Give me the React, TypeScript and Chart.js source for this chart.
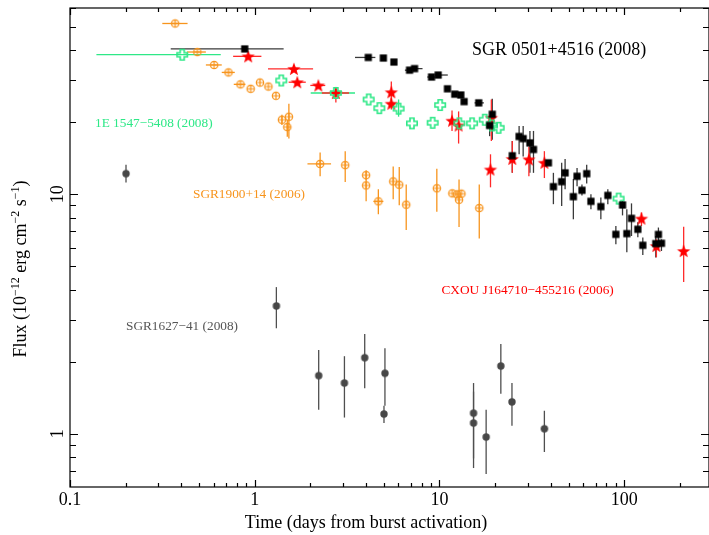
import { useEffect, useRef } from "react";
import { Chart, registerables } from "chart.js";

Chart.register(...registerables);

// Axis ranges and tick labels
const X_MIN = 0.1;
const X_MAX = 288;
const Y_MIN = 0.607;
const Y_MAX = 60;
const xTickLabels = [0.1, 1, 10, 100];
const yTickLabels = [1, 10];

// Rows: [time (days), flux, fluxLow, fluxHigh, timeLow, timeHigh]
type Row = (number | null)[];

const sgr0501: Row[] = [
  [0.883, 40.5, null, null, 0.351, 1.434],
  [4.12, 37.3, null, null, 3.49, 4.5],
  [4.97, 37.1],
  [5.67, 35.7],
  [6.89, 33.0, null, null, 6.5, 7.3],
  [7.33, 33.5, null, null, 7.0, 8.1],
  [9.06, 30.9, null, null, 8.6, 9.5],
  [9.84, 31.5, null, null, 9.45, 11.1],
  [11.05, 27.6],
  [12.11, 26.2],
  [13.05, 26.0],
  [13.6, 24.4],
  [16.32, 24.1, null, null, 15.5, 17.4],
  [18.7, 19.4, 17.5, 21.2],
  [19.32, 21.6, 16.9, 25.1],
  [24.8, 14.5, 12.3, 16.7],
  [27.0, 17.45, 14.7, 19.3],
  [28.4, 17.1, 14.4, 19.3],
  [30.9, 16.4, 12.3, 18.4],
  [32.3, 15.4, 12.3, 18.4],
  [38.9, 13.55],
  [41.4, 10.77, 9.1, 12.3],
  [45.9, 11.3, 8.94, 13.55],
  [47.9, 12.3, 10.5, 14.06],
  [53.1, 9.78, 7.87, 11.6],
  [55.6, 11.9, 10.8, 12.9],
  [59.1, 10.4, 9.9, 11.0],
  [62.7, 12.2, 11.1, 13.3],
  [66.1, 9.35, 8.66, 10.0],
  [74.8, 8.89, 7.87, 9.7],
  [81.6, 9.9, 9.1, 10.5],
  [98.0, 9.03, 8.17, 9.37],
  [90.2, 6.81, 6.19, 7.38],
  [103.4, 6.86, 5.73, 8.66],
  [109.6, 7.94, 6.7, 9.17],
  [118.6, 7.15, 6.62, 7.65],
  [126.2, 6.13, 5.58, 6.6],
  [148.3, 6.23, 5.45, 6.7],
  [153.3, 6.8, 6.29, 7.27],
  [159.2, 6.25, 5.8, 6.49],
];

const cxou1647: Row[] = [
  [0.922, 37.7, null, null, 0.764, 1.087],
  [1.63, 33.4, null, null, 1.18, 2.07],
  [1.7, 29.4, null, null, 1.526, 1.89],
  [2.21, 28.5, null, null, 2.0, 2.41],
  [2.75, 26.5, 24.2, 28.0, 2.31, 3.24],
  [5.49, 26.7, 24.5, 29.6],
  [5.49, 23.9, 22.6, 25.3],
  [11.7, 20.3, 18.4, 22.4],
  [12.7, 19.4, 16.3, 22.2],
  [19.1, 20.9, 16.7, 24.9],
  [18.9, 12.7, 10.7, 14.7],
  [24.8, 14.06, 12.3, 16.7],
  [30.5, 14.0, 11.9, 15.8],
  [37.0, 13.55, 11.7, 15.15],
  [124.1, 7.92, 7.38, 8.41],
  [149.5, 6.09, 5.46, 6.49],
  [210, 5.8, 4.31, 7.33],
];

const e1547: Row[] = [
  [0.405, 38.3, null, null, 0.139, 0.655],
  [1.393, 29.9],
  [2.75, 26.5, null, null, 2.01, 3.49],
  [4.14, 24.9],
  [4.73, 22.9],
  [6.01, 22.8, 21.1, 24.9],
  [7.1, 19.8],
  [9.19, 19.9],
  [10.09, 23.6],
  [12.82, 19.8],
  [15.02, 19.8],
  [17.58, 20.5],
  [19.25, 19.4],
  [20.93, 18.97],
  [93.3, 9.6],
];

const sgr1900: Row[] = [
  [0.371, 51.7, null, null, 0.316, 0.433],
  [0.489, 39.3, null, null, 0.43, 0.544],
  [0.603, 34.7, null, null, 0.544, 0.663],
  [0.721, 32.3, null, null, 0.663, 0.78],
  [0.837, 28.8, null, null, 0.77, 0.89],
  [0.951, 27.6],
  [1.068, 29.3],
  [1.186, 28.2],
  [1.303, 25.8],
  [1.404, 20.5, 19.5, 21.5],
  [1.531, 21.1, 17.1, 23.9],
  [1.501, 19.1, 17.4, 20.5],
  [2.26, 13.4, 11.9, 14.96, 1.93, 2.59],
  [3.09, 13.25, 11.25, 15.15],
  [4.01, 12.03, 11.5, 12.6],
  [4.01, 10.9, 9.35, 11.66],
  [4.67, 9.35, 8.26, 10.5, 4.39, 4.97],
  [5.62, 11.33, 9.53, 13.08],
  [6.06, 10.97, 9.0, 13.0],
  [6.61, 9.06, 7.1, 11.0],
  [9.68, 10.6, 8.47, 12.8],
  [11.75, 10.1],
  [12.46, 10.0],
  [13.15, 10.07],
  [12.77, 9.5, 7.3, 11.55],
  [16.43, 8.77, 6.54, 11.0],
];

const sgr1627: Row[] = [
  [0.201, 12.2, 11.2, 13.3],
  [1.31, 3.42, 2.76, 4.1],
  [2.22, 1.75, 1.26, 2.24],
  [3.06, 1.63, 1.17, 2.11],
  [3.94, 2.08, 1.55, 2.61],
  [5.07, 1.79, 1.31, 2.28],
  [5.01, 1.21, 1.11, 1.31],
  [15.3, 1.22, 0.79, 1.63],
  [15.3, 1.11, 0.72, 1.5],
  [17.9, 0.97, 0.68, 1.26],
  [21.5, 1.92, 1.47, 2.37],
  [24.7, 1.36, 1.08, 1.63],
  [37.0, 1.05, 0.84, 1.25, 35.5, 38.5],
];

const COLORS = {
  black: "#000000",
  red: "#ff0000",
  green: "#2ee887",
  orange: "#f7941d",
  gray: "#474747",
};

const FONT = "'Liberation Serif', 'Times New Roman', serif";

function toPoints(rows: Row[]) {
  return rows.map((r) => ({
    x: r[0] as number,
    y: r[1] as number,
    yLo: r[2] ?? null,
    yHi: r[3] ?? null,
    xLo: r[4] ?? null,
    xHi: r[5] ?? null,
  }));
}

function mkCanvas(size: number, draw: (ctx: CanvasRenderingContext2D, c: number) => void) {
  const cv = document.createElement("canvas");
  cv.width = size;
  cv.height = size;
  const ctx = cv.getContext("2d")!;
  draw(ctx, size / 2);
  return cv;
}

function starIcon(color: string) {
  return mkCanvas(16, (ctx, c) => {
    const R = 7;
    const r = 2.9;
    ctx.beginPath();
    for (let i = 0; i < 10; i++) {
      const rad = i % 2 === 0 ? R : r;
      const a = -Math.PI / 2 + (i * Math.PI) / 5;
      const px = c + rad * Math.cos(a);
      const py = c + 0.6 + rad * Math.sin(a);
      if (i === 0) ctx.moveTo(px, py);
      else ctx.lineTo(px, py);
    }
    ctx.closePath();
    ctx.fillStyle = color;
    ctx.fill();
  });
}

function plusIcon(color: string) {
  return mkCanvas(14, (ctx, c) => {
    const a = 5.2;
    const w = 2.0;
    const pts = [
      [-a, -w], [-w, -w], [-w, -a], [w, -a], [w, -w], [a, -w],
      [a, w], [w, w], [w, a], [-w, a], [-w, w], [-a, w],
    ];
    ctx.beginPath();
    pts.forEach(([px, py], i) => {
      if (i === 0) ctx.moveTo(c + px, c + py);
      else ctx.lineTo(c + px, c + py);
    });
    ctx.closePath();
    ctx.strokeStyle = color;
    ctx.lineWidth = 1.6;
    ctx.stroke();
  });
}

function circleCrossIcon(color: string) {
  return mkCanvas(12, (ctx, c) => {
    const r = 3.7;
    ctx.strokeStyle = color;
    ctx.lineWidth = 1.2;
    ctx.beginPath();
    ctx.arc(c, c, r, 0, Math.PI * 2);
    ctx.moveTo(c - r, c);
    ctx.lineTo(c + r, c);
    ctx.moveTo(c, c - r);
    ctx.lineTo(c, c + r);
    ctx.stroke();
  });
}

function dotIcon(color: string) {
  return mkCanvas(10, (ctx, c) => {
    ctx.beginPath();
    ctx.arc(c, c, 3.7, 0, Math.PI * 2);
    ctx.fillStyle = color;
    ctx.fill();
  });
}

function squareIcon(color: string) {
  return mkCanvas(10, (ctx, c) => {
    ctx.fillStyle = color;
    ctx.fillRect(c - 3.6, c - 3.6, 7.2, 7.2);
  });
}

const errorBarsPlugin = {
  id: "errorBars",
  beforeDatasetsDraw(chart: any) {
    const { ctx, scales } = chart;
    const xs = scales.x;
    const ys = scales.y;
    ctx.save();
    ctx.beginPath();
    ctx.rect(chart.chartArea.left, chart.chartArea.top, chart.chartArea.right - chart.chartArea.left, chart.chartArea.bottom - chart.chartArea.top);
    ctx.clip();
    chart.data.datasets.forEach((ds: any) => {
      ctx.strokeStyle = ds.errColor;
      ctx.lineWidth = 1.3;
      ds.data.forEach((p: any) => {
        const px = xs.getPixelForValue(p.x);
        const py = ys.getPixelForValue(p.y);
        ctx.beginPath();
        if (p.yLo != null && p.yHi != null) {
          ctx.moveTo(px, ys.getPixelForValue(p.yLo));
          ctx.lineTo(px, ys.getPixelForValue(p.yHi));
        }
        if (p.xLo != null && p.xHi != null) {
          ctx.moveTo(xs.getPixelForValue(p.xLo), py);
          ctx.lineTo(xs.getPixelForValue(p.xHi), py);
        }
        ctx.stroke();
      });
    });
    ctx.restore();
  },
};

function logTicks(min: number, max: number) {
  const out: { v: number; major: boolean }[] = [];
  for (let e = -2; e <= 3; e++) {
    for (let m = 1; m <= 9; m++) {
      const v = m * Math.pow(10, e);
      if (v >= min * 0.9999 && v <= max * 1.0001) out.push({ v, major: m === 1 });
    }
  }
  return out;
}

const framePlugin = {
  id: "frame",
  afterDatasetsDraw(chart: any) {
    const { ctx, chartArea: a, scales } = chart;
    const xs = scales.x;
    const ys = scales.y;
    ctx.save();
    ctx.strokeStyle = "#000";
    ctx.lineWidth = 1.2;
    ctx.strokeRect(a.left, a.top, a.right - a.left, a.bottom - a.top);
    ctx.beginPath();
    logTicks(X_MIN, X_MAX).forEach(({ v, major }) => {
      const px = Math.round(xs.getPixelForValue(v)) + 0.5;
      const len = major ? 7 : 4;
      ctx.moveTo(px, a.bottom);
      ctx.lineTo(px, a.bottom - len);
      ctx.moveTo(px, a.top);
      ctx.lineTo(px, a.top + len);
    });
    logTicks(Y_MIN, Y_MAX).forEach(({ v, major }) => {
      const py = Math.round(ys.getPixelForValue(v)) + 0.5;
      const len = major ? 8 : 6;
      ctx.moveTo(a.left, py);
      ctx.lineTo(a.left + len, py);
      ctx.moveTo(a.right, py);
      ctx.lineTo(a.right - len, py);
    });
    ctx.stroke();

    // tick labels
    ctx.fillStyle = "#000";
    ctx.font = `18px ${FONT}`;
    ctx.textAlign = "center";
    ctx.textBaseline = "middle";
    xTickLabels.forEach((v) => {
      ctx.fillText(String(v), xs.getPixelForValue(v), 500);
    });
    yTickLabels.forEach((v) => {
      ctx.save();
      ctx.translate(57, ys.getPixelForValue(v));
      ctx.rotate(-Math.PI / 2);
      ctx.fillText(String(v), 0, 1);
      ctx.restore();
    });

    // x title
    ctx.fillText("Time (days from burst activation)", 366, 523);

    // y title with superscripts
    const parts: [string, boolean][] = [
      ["Flux (10", false],
      ["\u221212", true],
      [" erg cm", false],
      ["\u22122", true],
      [" s", false],
      ["\u22121", true],
      [")", false],
    ];
    const big = `18px ${FONT}`;
    const small = `12px ${FONT}`;
    let total = 0;
    parts.forEach(([t, sup]) => {
      ctx.font = sup ? small : big;
      total += ctx.measureText(t).width;
    });
    ctx.save();
    ctx.translate(20, 269);
    ctx.rotate(-Math.PI / 2);
    ctx.textAlign = "left";
    ctx.textBaseline = "alphabetic";
    let cx = -total / 2;
    parts.forEach(([t, sup]) => {
      ctx.font = sup ? small : big;
      ctx.fillText(t, cx, sup ? -1 : 6);
      cx += ctx.measureText(t).width;
    });
    ctx.restore();

    // annotations
    ctx.textAlign = "left";
    ctx.textBaseline = "middle";
    const notes: [string, number, number, number, string][] = [
      ["SGR 0501+4516 (2008)", 472, 50, 18, COLORS.black],
      ["1E 1547\u22125408 (2008)", 95, 123.5, 13.3, COLORS.green],
      ["SGR1900+14 (2006)", 193, 195, 13.3, COLORS.orange],
      ["CXOU J164710\u2212455216 (2006)", 441.5, 291, 13.3, COLORS.red],
      ["SGR1627\u221241 (2008)", 126, 327, 13.3, "#555555"],
    ];
    notes.forEach(([t, x, y, size, col]) => {
      ctx.font = `${size}px ${FONT}`;
      ctx.fillStyle = col;
      ctx.fillText(t, x, y);
    });
    ctx.restore();
  },
};

export default function App() {
  const ref = useRef<HTMLCanvasElement | null>(null);

  useEffect(() => {
    if (!ref.current) return;
    const datasets: any[] = [
      {
        label: "SGR 0501+4516 (2008)",
        data: toPoints(sgr0501),
        pointStyle: squareIcon(COLORS.black),
        errColor: "#3a3a3a",
        order: 1,
      },
      {
        label: "1E 1547-5408 (2008)",
        data: toPoints(e1547),
        pointStyle: plusIcon(COLORS.green),
        errColor: COLORS.green,
        order: 2,
      },
      {
        label: "CXOU J164710-455216 (2006)",
        data: toPoints(cxou1647),
        pointStyle: starIcon(COLORS.red),
        errColor: "#ff2a2a",
        order: 3,
      },
      {
        label: "SGR1900+14 (2006)",
        data: toPoints(sgr1900),
        pointStyle: circleCrossIcon(COLORS.orange),
        errColor: COLORS.orange,
        order: 4,
      },
      {
        label: "SGR1627-41 (2008)",
        data: toPoints(sgr1627),
        pointStyle: dotIcon(COLORS.gray),
        errColor: "#4f4f4f",
        order: 5,
      },
    ].map((d) => ({ ...d, showLine: false, pointRadius: 5, pointHoverRadius: 5 }));

    const chart = new Chart(ref.current, {
      type: "scatter",
      data: { datasets },
      options: {
        animation: false,
        responsive: false,
        devicePixelRatio: 1,
        layout: { autoPadding: false, padding: { top: 8, right: -2, left: 0, bottom: 0 } },
        plugins: { legend: { display: false }, tooltip: { enabled: false } },
        events: [],
        scales: {
          x: {
            type: "logarithmic",
            min: X_MIN,
            max: X_MAX,
            grid: { display: false, drawTicks: false },
            border: { display: false },
            ticks: { display: false },
            afterFit: (s: any) => {
              s.height = 48;
            },
          },
          y: {
            type: "logarithmic",
            min: Y_MIN,
            max: Y_MAX,
            grid: { display: false, drawTicks: false },
            border: { display: false },
            ticks: { display: false },
            afterFit: (s: any) => {
              s.width = 70;
            },
          },
        },
      } as any,
      plugins: [errorBarsPlugin, framePlugin],
    });
    return () => chart.destroy();
  }, []);

  return (
    <div style={{ position: "fixed", left: 0, top: 0, width: 709, height: 535, overflow: "hidden", background: "#fff" }}>
      <canvas ref={ref} width={709} height={535} />
    </div>
  );
}
